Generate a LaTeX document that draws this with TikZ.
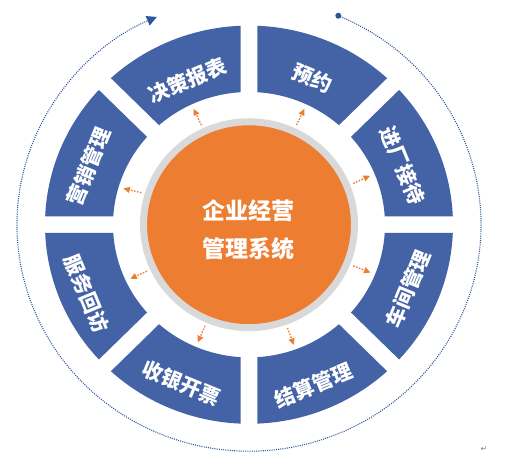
\documentclass[tikz,border=0pt]{standalone}
\usepackage{fontspec}
\newfontfamily\cjk{Noto Sans CJK SC}
\newfontfamily\dejavu{DejaVu Sans}
\usetikzlibrary{arrows.meta}
\definecolor{segblue}{HTML}{4463A6}
\definecolor{corange}{HTML}{ED7D31}
\definecolor{ringgray}{HTML}{D9D9D9}
\definecolor{dotblue}{HTML}{2B559C}
\tikzset{
  seglabel/.style={text=white, font=\cjk\bfseries\fontsize{20.5}{24}\selectfont, inner sep=0pt},
  coretitle/.style={text=white, font=\cjk\bfseries\fontsize{23}{37.7}\selectfont, align=center, inner sep=0pt},
  oarrow/.style={corange, line width=1.3pt, dash pattern=on 1.6pt off 1.4pt, -{Triangle[length=6.5pt,width=6pt]}},
  dotarc/.style={dotblue, line width=1.1pt, dash pattern=on 1pt off 1.2pt, -{Triangle[length=10pt,width=10pt]}},
}
\begin{document}
\begin{tikzpicture}[x=1pt,y=1pt]
\useasboundingbox (-249,-235.3) rectangle (266,224.7);
\begin{scope}[yscale=0.976]
  % eight ring segments
  \foreach \a in {0,45,...,315}{
    \pgfmathsetmacro\oa{\a+2.388}
    \pgfmathsetmacro\ob{\a+45-2.388}
    \pgfmathsetmacro\ia{\a+45-3.583}
    \pgfmathsetmacro\ib{\a+3.583}
    \fill[segblue] (\oa:204) arc[start angle=\oa, end angle=\ob, radius=204pt]
      -- (\ia:136) arc[start angle=\ia, end angle=\ib, radius=136pt] -- cycle;
  }
  % core
  \node[circle, fill=corange, draw=ringgray, line width=7pt, minimum size=211pt, inner sep=0pt, transform shape] (core) at (0,0) {};
  % labels
  \node[seglabel, rotate=22.5]  (s1) at (112.5:160) {决策报表};
  \node[seglabel, rotate=-22.5] (s2) at (67:163) {预约};
  \node[seglabel, rotate=-67.5] (s3) at (21.5:165) {进厂接待};
  \node[seglabel, rotate=67.5]  (s4) at (-22.5:172) {车间管理};
  \node[seglabel, rotate=22.5]  (s5) at (-68.6:177) {结算管理};
  \node[seglabel, rotate=-22.5] (s6) at (-112.5:176) {收银开票};
  \node[seglabel, rotate=-67.5] (s7) at (203.4:177) {服务回访};
  \node[seglabel, rotate=67.5]  (s8) at (159.7:171) {营销管理};
  % dashed arrows
  \foreach \ang [count=\i] in {115,65,22.5,-22,-70,-113,205,163.5}{
    \coordinate (t\i) at (\ang:131);
    \draw[oarrow, shorten <=3.5pt] (core.\ang) -- (t\i);
  }
  % outer dotted arc
  \node[circle, fill=dotblue, inner sep=0pt, minimum size=6pt] (dot) at (67.35:232) {};
  \draw[dotarc] (dot.center) arc[start angle=67.35, end angle=-246.6, radius=232pt];
\end{scope}
\node[coretitle] (title) at (0,-4.8) {企业经营\\管理系统};
\node[text=gray, font=\dejavu\fontsize{8}{8}\selectfont, inner sep=0pt] (ret) at (235,-224.3) {↵};
\end{tikzpicture}
\end{document}
